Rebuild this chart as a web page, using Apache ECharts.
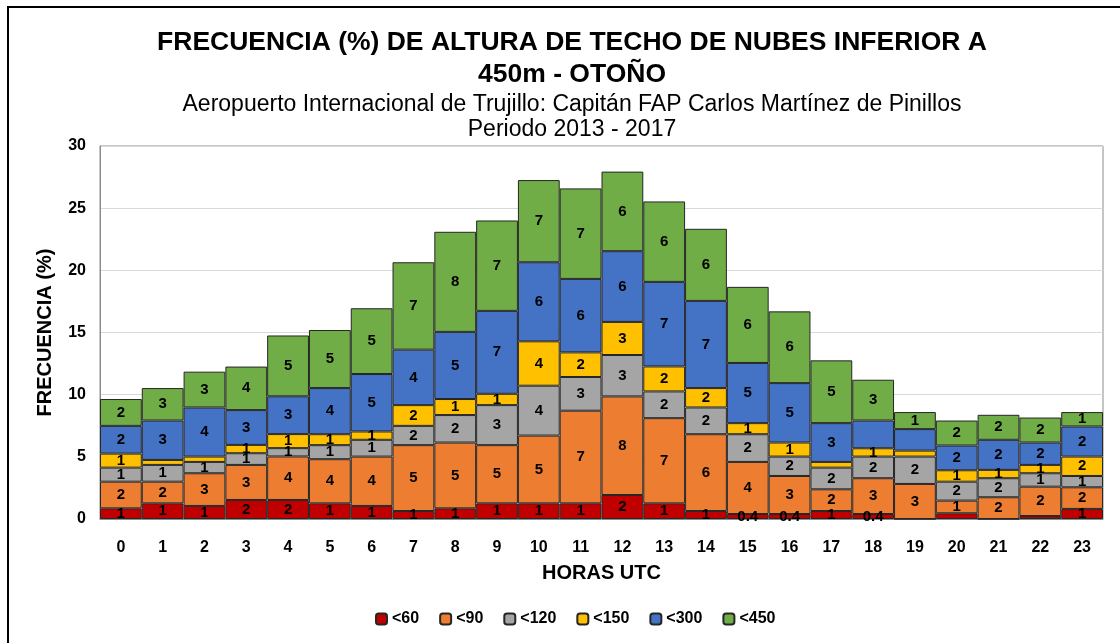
<!DOCTYPE html>
<html>
<head>
<meta charset="utf-8">
<title>Frecuencia techo de nubes - Otoño</title>
<script src="https://cdn.jsdelivr.net/npm/echarts@6/dist/echarts.min.js"></script>
<style>
  html, body { margin: 0; padding: 0; background: #fff; }
  #chart { width: 1120px; height: 643px; }
</style>
</head>
<body>
<div id="chart"></div>
<script>
// horas UTC
const horas = ['0', '1', '2', '3', '4', '5', '6', '7', '8', '9', '10', '11',
  '12', '13', '14', '15', '16', '17', '18', '19', '20', '21', '22', '23']

// frecuencia (%) por rango de altura
const menor60 = [0.86, 1.26, 1.05, 1.53, 1.53, 1.26, 1.05, 0.64, 0.86, 1.26, 1.26, 1.26,
  1.93, 1.26, 0.64, 0.40, 0.40, 0.64, 0.40, 0, 0.46, 0, 0.24, 0.81]
const menor90 = [2.14, 1.74, 2.63, 2.82, 3.50, 3.55, 3.97, 5.30, 5.29, 4.68, 5.45, 7.45,
  7.93, 6.85, 6.18, 4.19, 3.06, 1.75, 2.88, 2.82, 1.02, 1.75, 2.36, 1.74]
const menor120 = [1.13, 1.35, 0.91, 0.94, 0.67, 1.13, 1.35, 1.55, 2.21, 3.22, 4.01, 2.71,
  3.33, 2.15, 2.15, 2.23, 1.56, 1.74, 1.74, 2.20, 1.52, 1.53, 1.08, 0.91]
const menor150 = [1.13, 0.40, 0.43, 0.67, 1.13, 0.88, 0.67, 1.67, 1.29, 0.91, 3.57, 1.98,
  2.66, 2.01, 1.56, 0.89, 1.13, 0.46, 0.67, 0.48, 0.92, 0.67, 0.67, 1.56]
const menor300 = [2.23, 3.17, 3.95, 2.80, 3.04, 3.71, 4.62, 4.46, 5.40, 6.67, 6.36, 5.91,
  5.69, 6.80, 7.01, 4.84, 4.78, 3.12, 2.23, 1.73, 1.99, 2.42, 1.80, 2.42]
const menor450 = [2.16, 2.61, 2.88, 3.50, 4.89, 4.67, 5.29, 7.03, 8.05, 7.27, 6.61, 7.28,
  6.40, 6.47, 5.80, 6.12, 5.77, 5.05, 3.28, 1.37, 2.01, 2.01, 2.01, 1.16]

const rangos = ['<60', '<90', '<120', '<150', '<300', '<450']
const colores = ['#C00000', '#ED7D31', '#A5A5A5', '#FFC000', '#4472C4', '#70AD47']
const valores = [menor60, menor90, menor120, menor150, menor300, menor450]

// etiquetas que no aparecen en el gráfico original [serie, hora]
const sinEtiqueta = [[0, 20], [0, 22], [3, 1], [3, 2], [3, 17], [3, 19], [4, 18], [4, 19]]

const chart = echarts.init(document.getElementById('chart'))

const series = valores.map((datos, s) => ({
  name: rangos[s],
  type: 'bar',
  stack: 'total',
  barCategoryGap: '0%',
  itemStyle: { color: colores[s], borderColor: '#262626', borderWidth: 1 },
  label: {
    show: true,
    position: 'inside',
    color: '#000',
    fontFamily: 'Liberation Sans, Arial',
    fontWeight: 'bold',
    fontSize: 15,
    formatter: p => {
      if (!p.value) return ''
      if (sinEtiqueta.some(e => e[0] === s && e[1] === p.dataIndex)) return ''
      return p.value < 0.5 ? p.value.toFixed(1) : String(Math.round(p.value))
    }
  },
  data: datos
}))

const option = {
  animation: false,
  textStyle: { fontFamily: 'Liberation Sans, Arial' },
  title: [
    {
      text: 'FRECUENCIA (%) DE ALTURA DE TECHO DE NUBES INFERIOR A\n450m - OTOÑO',
      left: 567,
      top: 22,
      textAlign: 'center',
      textStyle: { fontSize: 26.5, fontWeight: 'bold', color: '#000', lineHeight: 32, align: 'center' }
    },
    {
      text: 'Aeropuerto Internacional de Trujillo: Capitán FAP Carlos Martínez de Pinillos\nPeriodo 2013 - 2017',
      left: 567,
      top: 87,
      textAlign: 'center',
      textStyle: { fontSize: 23, fontWeight: 'normal', color: '#000', lineHeight: 25, align: 'center' }
    }
  ],
  graphic: [{
    type: 'rect',
    shape: { x: 8, y: 7, width: 1200, height: 700 },
    style: { fill: 'none', stroke: '#000', lineWidth: 2 },
    silent: true
  }],
  legend: {
    bottom: 11,
    left: 370,
    itemWidth: 11,
    itemHeight: 11,
    itemGap: 20,
    textStyle: { fontSize: 16, fontWeight: 'bold', color: '#000' },
    data: rangos
  },
  grid: {
    left: 100,
    right: 17,
    top: 146,
    bottom: 124,
    show: true,
    borderColor: '#8c8c8c',
    borderWidth: 1
  },
  xAxis: {
    type: 'category',
    data: horas,
    name: 'HORAS UTC',
    nameLocation: 'middle',
    nameGap: 44,
    nameTextStyle: { fontSize: 20, fontWeight: 'bold', color: '#000' },
    axisTick: { show: false },
    axisLine: { lineStyle: { color: '#8c8c8c' } },
    axisLabel: { fontSize: 16, fontWeight: 'bold', color: '#000', margin: 21 }
  },
  yAxis: {
    type: 'value',
    min: 0,
    max: 30,
    interval: 5,
    name: 'FRECUENCIA (%)',
    nameLocation: 'middle',
    nameGap: 45,
    nameTextStyle: { fontSize: 20, fontWeight: 'bold', color: '#000' },
    axisLine: { show: true, lineStyle: { color: '#8c8c8c' } },
    axisLabel: { fontSize: 16, fontWeight: 'bold', color: '#000', margin: 14 },
    splitLine: { lineStyle: { color: '#d9d9d9' } }
  },
  series
}

chart.setOption(option)
</script>
</body>
</html>
